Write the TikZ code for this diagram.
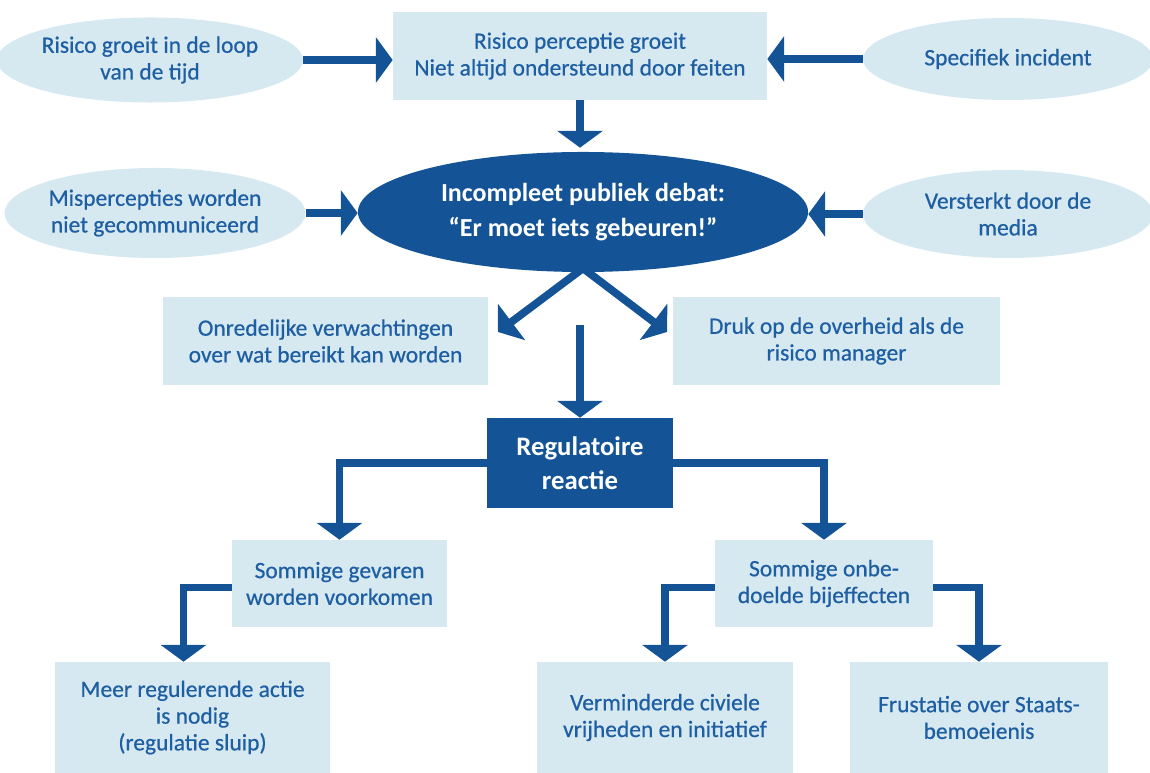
\documentclass[tikz,border=0pt]{standalone}
\usepackage{fontspec}
\setmainfont{Carlito}
\newfontfamily\medfont{Carlito}[FakeBold=0.6]
\usetikzlibrary{arrows.meta,shapes.geometric}
\definecolor{dblue}{RGB}{20,84,150}
\definecolor{lblue}{RGB}{214,233,241}
\definecolor{tblue}{RGB}{30,94,162}
\begin{document}
\begin{tikzpicture}[x=0.025cm,y=-0.025cm,
 lbox/.style={rectangle, fill=lblue, text=tblue, align=center, inner sep=0pt,
   font=\medfont\fontsize{16.7}{19}\selectfont},
 lell/.style={ellipse, fill=lblue, text=tblue, align=center, inner sep=0pt,
   font=\medfont\fontsize{16.7}{19}\selectfont},
 dbox/.style={rectangle, fill=dblue, text=white, align=center, inner sep=0pt,
   font=\fontsize{19}{24}\selectfont\bfseries},
 conn/.style={draw=dblue, line width=5.5pt, -{Triangle[width=32pt,length=12pt]}},
]
\useasboundingbox (0,0) rectangle (1150,773);
% top row
\node[lell, minimum width=7.25cm, minimum height=2.125cm] (e1) at (150,60) {Risico groeit in de loop\\van de tijd};
\node[lbox, minimum width=9.35cm, minimum height=2.2cm] (box2) at (580,56) {Risico perceptie groeit\\Niet altijd ondersteund door feiten};
\node[lell, minimum width=7.25cm, minimum height=2.05cm] (e3) at (1008,59) {Specifiek incident};
% middle row
\node[ellipse, fill=dblue, text=white, align=center, inner sep=0pt,
  font=\fontsize{18.5}{25}\selectfont\bfseries,
  minimum width=11.25cm, minimum height=3cm] (big) at (583,212) {Incompleet publiek debat:\\“Er moet iets gebeuren!”};
\node[lell, minimum width=7.25cm, minimum height=2.25cm] (eL) at (155,213) {Mispercepties worden\\niet gecommuniceerd};
\node[lell, minimum width=7.25cm, minimum height=2.2cm] (eR) at (1008,214) {Versterkt door de\\media};
% second row boxes
\node[lbox, minimum width=8.125cm, minimum height=2.2cm] (onr) at (325.5,341) {Onredelijke verwachtingen\\over wat bereikt kan worden};
\node[lbox, minimum width=8.175cm, minimum height=2.2cm] (druk) at (836.5,341) {Druk op de overheid als de\\risico manager};
% regulatoire
\node[dbox, minimum width=4.65cm, minimum height=2.25cm] (reg) at (580,463) {Regulatoire\\reactie};
\node[lbox, minimum width=5.375cm, minimum height=2.175cm] (sg) at (339.5,583.5) {Sommige gevaren\\worden voorkomen};
\node[lbox, minimum width=5.45cm, minimum height=2.175cm] (so) at (824,583.5) {Sommige onbe-\\doelde bijeffecten};
% bottom row
\node[lbox, minimum width=6.875cm, minimum height=2.775cm] (meer) at (192.5,717.5) {Meer regulerende actie\\is nodig\\(regulatie sluip)};
\node[lbox, minimum width=6.4cm, minimum height=2.775cm] (verm) at (665,717.5) {Verminderde civiele\\vrijheden en initiatief};
\node[lbox, minimum width=6.45cm, minimum height=2.775cm] (frus) at (979,717.5) {Frustatie over Staats-\\bemoeienis};
% coordinates
\coordinate (dl) at (498,332);
\coordinate (dr) at (667,332);
\coordinate (vs) at (580,325);
% connectors
\draw[conn] (e1.east) -- (e1.east -| box2.west);
\draw[conn] (e3.west) -- (e3.west -| box2.east);
\draw[conn] (box2.south) -- ([yshift=0.1cm]box2.south |- big.north);
\draw[conn] (eL.east) -- (eL.east -| big.west);
\draw[conn] (eR.west) -- (eR.west -| big.east);
\draw[conn] ([yshift=0.1cm]big.south) -- (dl);
\draw[conn] ([yshift=0.1cm]big.south) -- (dr);
\draw[conn] (vs) -- (reg.north);
\draw[conn] (reg.west) -| (sg.north);
\draw[conn] (reg.east) -| (so.north);
\draw[conn] ([yshift=-0.1cm]sg.west) -| ([xshift=-0.225cm]meer.north);
\draw[conn] ([yshift=-0.1cm]so.west) -| (verm.north);
\draw[conn] ([yshift=-0.1cm]so.east) -| (frus.north);
\end{tikzpicture}
\end{document}
